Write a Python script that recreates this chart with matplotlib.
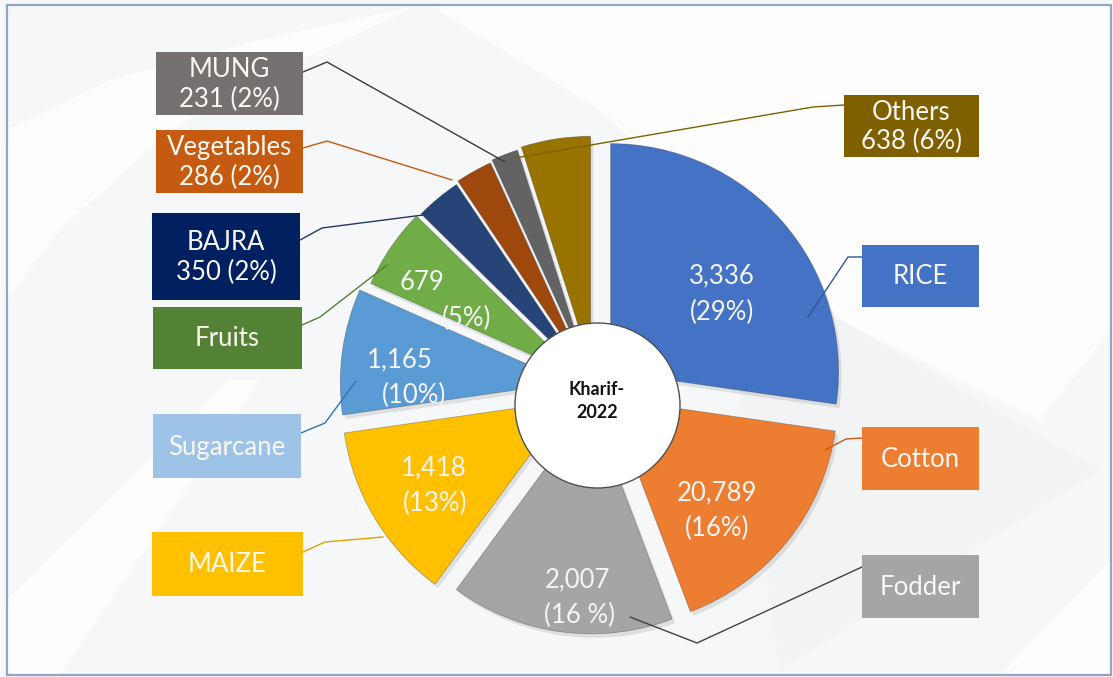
import matplotlib.pyplot as plt
from matplotlib.patches import Rectangle, Circle, Polygon

W, H = 1113, 677

# data
crops = ["RICE", "Cotton", "Fodder", "MAIZE", "Sugarcane",
         "Fruits", "BAJRA", "Vegetables", "MUNG", "Others"]
# wedge shares (%) as measured from the wedge angles
shares = [27.2, 16.9, 15.8, 12.6, 8.9, 5.7, 3.2, 2.6, 1.9, 4.9]
value_labels = ["3,336", "20,789", "2,007", "1,418", "1,165",
                "679", "350", "286", "231", "638"]
pct_labels = ["(29%)", "(16%)", "(16 %)", "(13%)", "(10%)",
              "(5%)", "(2%)", "(2%)", "(2%)", "(6%)"]
center_label = "Kharif-\n2022"

# styles
slice_colors = ["#4472C4", "#ED7D31", "#A5A5A5", "#FFC000", "#5B9BD5",
                "#70AD47", "#264478", "#9E480E", "#636363", "#997300"]
box_colors = ["#4472C4", "#ED7D31", "#A5A5A5", "#FFC000", "#9DC3E6",
              "#548235", "#002060", "#C55A11", "#767171", "#7F6000"]
line_colors = ["#2F5597", "#C55A11", "#404040", "#D9A400", "#2E75B6",
               "#548235", "#1F3864", "#C55A11", "#3A3A3A", "#7F6000"]
explode_px = [22, 20, 20, 28, 26, 18, 16, 18, 20, 22]

# layout in pixel coordinates (y measured from the top)
pie_center = (594, 386)
pie_radius = 228
# inside-slice labels: (value position, percent position)
inside_pos = {
    "RICE": ((722, 276), (722, 312)),
    "Cotton": ((717, 493), (717, 528)),
    "Fodder": ((577, 580), (580, 615)),
    "MAIZE": ((434, 468), (435, 503)),
    "Sugarcane": ((400, 360), (414, 395)),
    "Fruits": ((422, 282), (467, 318)),
}
boxes = {
    "RICE": (862, 245, 979, 307),
    "Cotton": (862, 427, 979, 490),
    "Fodder": (862, 555, 979, 618),
    "MAIZE": (152, 532, 303, 596),
    "Sugarcane": (153, 414, 301, 478),
    "Fruits": (153, 307, 302, 369),
    "BAJRA": (152, 213, 300, 300),
    "Vegetables": (156, 130, 303, 193),
    "MUNG": (156, 52, 303, 115),
    "Others": (844, 95, 979, 157),
}
leaders = {
    "RICE": [(862, 257), (848, 257), (808, 317)],
    "Cotton": [(862, 438), (846, 439), (825, 450)],
    "Fodder": [(862, 567), (697, 643), (630, 617)],
    "MAIZE": [(303, 552), (325, 542), (383, 537)],
    "Sugarcane": [(301, 433), (325, 423), (356, 381)],
    "Fruits": [(302, 325), (320, 317), (387, 265)],
    "BAJRA": [(300, 240), (322, 228), (423, 215)],
    "Vegetables": [(303, 148), (327, 141), (452, 180)],
    "MUNG": [(303, 72), (327, 62), (505, 162)],
    "Others": [(844, 105), (813, 107), (515, 158)],
}


def py(y):
    return H - y


plt.rcParams["font.family"] = ["Lato", "DejaVu Sans"]

fig = plt.figure(figsize=(W / 100, H / 100), dpi=100)
fig.patch.set_facecolor("#F6F7F8")
ax = fig.add_axes([0, 0, 1, 1])

# faint background swooshes
bg_white = [
    [(430, 5), (1111, 5), (1111, 330), (1040, 420), (800, 300), (600, 110)],
    [(7, 130), (110, 80), (260, 40), (420, 5), (300, 60), (170, 130), (60, 230), (7, 300)],
    [(7, 600), (230, 380), (260, 380), (60, 675), (7, 675)],
    [(1111, 560), (1000, 675), (1111, 675)],
]
for pts in bg_white:
    ax.add_patch(Polygon([(x, py(y)) for x, y in pts], closed=True,
                         fc="white", ec="none", alpha=0.8, zorder=0))
ax.add_patch(Polygon([(x, py(y)) for x, y in [(720, 250), (1100, 470), (780, 670)]],
                     closed=True, fc="#F1F2F4", ec="none", alpha=0.8, zorder=0))

# soft shadow under the wedges
ax.pie(shares, colors=["#8A8A8A"] * len(shares), startangle=90, counterclock=False,
       radius=pie_radius, center=(pie_center[0] + 3, py(pie_center[1] + 4)),
       explode=explode_px, wedgeprops=dict(linewidth=0, alpha=0.22, zorder=1))
wedges, _ = ax.pie(shares, colors=slice_colors, startangle=90, counterclock=False,
                   radius=pie_radius, center=(pie_center[0], py(pie_center[1])),
                   explode=explode_px,
                   wedgeprops=dict(linewidth=0.6, zorder=2))
for w in wedges:
    w.set_edgecolor((0.2, 0.2, 0.25, 0.35))

ax.add_patch(Circle((597.5, py(405.5)), 82.5, fc="white", ec="#505050", lw=1.0, zorder=6))
ax.text(597, py(401), center_label, ha="center", va="center", fontsize=13,
        fontweight="bold", color="#111111", linespacing=1.45, zorder=7)

for i, name in enumerate(crops):
    if name in inside_pos:
        (xv, yv), (xp, yp) = inside_pos[name]
        ax.text(xv, py(yv), value_labels[i], ha="center", va="center",
                fontsize=18.5, color="#F5F5F5", zorder=5)
        ax.text(xp, py(yp), pct_labels[i], ha="center", va="center",
                fontsize=18.5, color="#F5F5F5", zorder=5)
        box_text = name
    else:
        box_text = f"{name}\n{value_labels[i]} {pct_labels[i]}"

    x0, y0, x1, y1 = boxes[name]
    ax.add_patch(Rectangle((x0, py(y1)), x1 - x0, y1 - y0, fc=box_colors[i],
                           ec="none", zorder=8))
    ax.text((x0 + x1) / 2, py((y0 + y1) / 2 + 1), box_text, ha="center", va="center",
            fontsize=18.5, color="#FBF8F2", linespacing=1.2, zorder=9)

    lx = [p[0] for p in leaders[name]]
    ly = [py(p[1]) for p in leaders[name]]
    ax.plot(lx, ly, color=line_colors[i], lw=1.0, zorder=7, solid_capstyle="round")

# outer frame
ax.add_patch(Rectangle((7, py(675)), 1104, 670, fc="none", ec="#8FA6C4", lw=1.6, zorder=10))

ax.set_xlim(0, W)
ax.set_ylim(0, H)
ax.set_aspect("equal")
ax.axis("off")

fig.savefig("out.png", dpi=100, facecolor=fig.get_facecolor())
